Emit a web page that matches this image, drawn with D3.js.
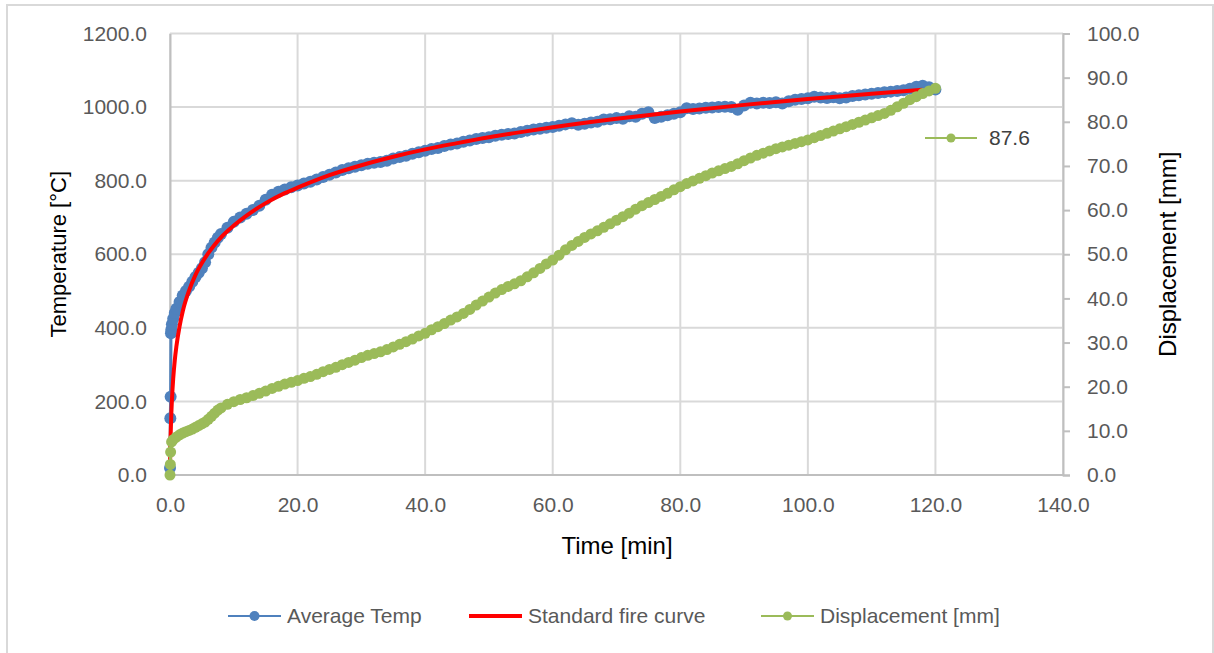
<!DOCTYPE html>
<html><head><meta charset="utf-8">
<script src="https://cdn.jsdelivr.net/npm/d3@7"></script>
<style>html,body{margin:0;padding:0;background:#fff;}svg{display:block;font-family:"Liberation Sans",Arial,sans-serif;}</style>
</head><body><svg id="c" width="1214" height="653"></svg>
<script>
// ---- data ----
const tempTime = [0,0.05,0.1,0.15,0.2,0.3,0.5,0.75,1,1.5,2,2.5,3,3.5,4,4.5,5,5.5,6,6.5,7,7.5,8,9,10,11,12,13,14,15,16,17,18,19,20,21,22,23,24,25,26,27,28,29,30,31,32,33,34,35,36,37,38,39,40,41,42,43,44,45,46,47,48,49,50,51,52,53,54,55,56,57,58,59,60,61,62,63,64,65,66,67,68,69,70,71,72,73,74,75,76,77,78,79,80,81,82,83,84,85,86,87,88,89,90,91,92,93,94,95,96,97,98,99,100,101,102,103,104,105,106,107,108,109,110,111,112,113,114,115,116,117,118,119,120];
const avgTemp = [19,154,213,385,395,410,425,440,452,470,488,500,512,525,538,550,562,578,600,618,632,645,655,672,688,700,710,720,732,748,762,770,776,782,787,792,797,803,810,816,822,829,834,838,842,846,849,851,854,860,864,868,873,877,881,886,889,894,898,901,906,909,913,916,918,922,925,927,928,932,936,939,941,944,946,949,953,956,952,955,958,960,966,967,970,968,975,974,982,986,970,974,978,982,986,997,995,996,998,999,1000,1001,1000,993,1004,1012,1010,1012,1011,1013,1010,1016,1020,1022,1024,1028,1026,1025,1027,1024,1026,1030,1032,1034,1036,1038,1040,1042,1044,1046,1050,1055,1058,1054,1048];
const fireTime = [0,0.05,0.1,0.2,0.3,0.5,0.75,1,1.5,2,3,4,5,6,7,8,10,12,15,18,20,25,30,35,40,45,50,55,60,70,80,90,100,110,118];
const fireCurve = [20,70,108,163,203,261,312,349,404,445,502,544,576,603,626,646,678,705,739,766,781,815,842,865,885,902,918,932,945,968,988,1006,1022,1036,1047];
const dispTime = [0,0.05,0.1,0.25,0.5,1,1.5,2,2.5,3,3.5,4,4.5,5,5.5,6,6.5,7,7.5,8,9,10,11,12,13,14,15,16,17,18,19,20,21,22,23,24,25,26,27,28,29,30,31,32,33,34,35,36,37,38,39,40,41,42,43,44,45,46,47,48,49,50,51,52,53,54,55,56,57,58,59,60,61,62,63,64,65,66,67,68,69,70,71,72,73,74,75,76,77,78,79,80,81,82,83,84,85,86,87,88,89,90,91,92,93,94,95,96,97,98,99,100,101,102,103,104,105,106,107,108,109,110,111,112,113,114,115,116,117,118,119,120];
const displacement = [0,2.4,5.2,7.5,8.0,8.6,9.1,9.5,9.8,10.1,10.4,10.8,11.2,11.6,12.0,12.6,13.3,14.0,14.7,15.2,16.0,16.6,17.1,17.5,18.0,18.5,19.0,19.6,20.1,20.6,21.0,21.4,21.9,22.3,22.8,23.4,23.9,24.4,25.0,25.5,26.0,26.6,27.1,27.5,27.9,28.4,29.0,29.6,30.2,30.8,31.5,32.1,32.9,33.6,34.3,35.1,35.8,36.6,37.5,38.5,39.4,40.3,41.2,42.0,42.7,43.3,44.0,44.9,45.8,46.8,47.8,48.7,49.8,51.0,52.0,52.9,53.8,54.6,55.3,56.1,56.9,57.7,58.5,59.3,60.2,61.0,61.7,62.4,63.1,63.8,64.6,65.3,66.0,66.6,67.2,67.8,68.4,68.9,69.4,69.9,70.5,71.2,71.8,72.4,72.9,73.4,73.9,74.3,74.7,75.1,75.5,75.9,76.4,76.9,77.4,77.9,78.4,78.9,79.4,79.9,80.4,80.9,81.4,81.9,82.6,83.4,84.2,85.0,85.7,86.4,87.0,87.6];
const xTicks = [0,20,40,60,80,100,120,140];
const yTicks = [0,200,400,600,800,1000,1200];
const y2Ticks = [0,10,20,30,40,50,60,70,80,90,100];
const seriesNames = ["Average Temp","Standard fire curve","Displacement [mm]"];
const lastLabel = "87.6";

// ---- drawing ----
const svg = d3.select("#c");
const L = 170, R = 1063, T = 33.5, B = 475;
const x = d3.scaleLinear().domain([0,140]).range([L,R]);
const y = d3.scaleLinear().domain([0,1200]).range([B,T]);
const y2 = d3.scaleLinear().domain([0,100]).range([B,T]);
const BLUE = "#4f81bd", RED = "#ff0000", GREEN = "#9bbb59", GRID = "#d9d9d9", TXT = "#595959";

svg.append("rect").attr("x",7).attr("y",5).attr("width",1206).attr("height",660)
  .attr("fill","none").attr("stroke","#d9d9d9").attr("stroke-width",2);

// gridlines
svg.append("g").selectAll("line").data(yTicks).join("line")
  .attr("x1",L).attr("x2",R).attr("y1",d=>y(d)).attr("y2",d=>y(d))
  .attr("stroke",GRID).attr("stroke-width",2);
svg.append("g").selectAll("line").data(xTicks).join("line")
  .attr("y1",T).attr("y2",B).attr("x1",d=>x(d)).attr("x2",d=>x(d))
  .attr("stroke",GRID).attr("stroke-width",2);

// axes
const axB = svg.append("g").attr("transform",`translate(0,${B})`)
  .call(d3.axisBottom(x).tickValues(xTicks).tickFormat(d3.format(".1f")).tickSize(0).tickPadding(22));
const axL = svg.append("g").attr("transform",`translate(${L},0)`)
  .call(d3.axisLeft(y).tickValues(yTicks).tickFormat(d3.format(".1f")).tickSize(0).tickPadding(23));
const axR = svg.append("g").attr("transform",`translate(${R},0)`)
  .call(d3.axisRight(y2).tickValues(y2Ticks).tickFormat(d3.format(".1f")).tickSize(7).tickPadding(17));
[axB,axL,axR].forEach(a=>{
  a.select(".domain").attr("stroke","#bfbfbf").attr("stroke-width",2);
  a.selectAll(".tick line").attr("stroke","#bfbfbf").attr("stroke-width",2);
  a.selectAll("text").attr("fill",TXT).style("font-size","21px").style("font-family","'Liberation Sans',Arial,sans-serif");
});
axB.selectAll("text").attr("dy","0.71em");
axB.select(".domain").attr("d",`M${L},0H${R}`);

// series
const lineT = d3.line().x((d,i)=>x(tempTime[i])).y(d=>y(d));
svg.append("path").datum(avgTemp).attr("d",lineT).attr("fill","none").attr("stroke",BLUE).attr("stroke-width",3);
svg.append("g").selectAll("circle").data(avgTemp).join("circle")
  .attr("cx",(d,i)=>x(tempTime[i])).attr("cy",d=>y(d)).attr("r",6).attr("fill",BLUE);

const lineF = d3.line().x((d,i)=>x(fireTime[i])).y(d=>y(d)).curve(d3.curveMonotoneX);
svg.append("path").datum(fireCurve).attr("d",lineF).attr("fill","none").attr("stroke",RED).attr("stroke-width",4);

const lineD = d3.line().x((d,i)=>x(dispTime[i])).y(d=>y2(d));
svg.append("path").datum(displacement).attr("d",lineD).attr("fill","none").attr("stroke",GREEN).attr("stroke-width",3);
svg.append("g").selectAll("circle").data(displacement).join("circle")
  .attr("cx",(d,i)=>x(dispTime[i])).attr("cy",d=>y2(d)).attr("r",5.5).attr("fill",GREEN);

// data label with key
const lbl = svg.append("g").attr("transform","translate(925,138)");
lbl.append("line").attr("x1",0).attr("x2",52).attr("stroke",GREEN).attr("stroke-width",2);
lbl.append("circle").attr("cx",26).attr("r",4.5).attr("fill",GREEN);
lbl.append("text").attr("x",64).attr("dy","0.35em").attr("fill","#404040").style("font-size","21px").text(lastLabel);

// axis titles
svg.append("text").attr("x",617).attr("y",554).attr("text-anchor","middle").attr("fill","#000").style("font-size","24px").text("Time [min]");
svg.append("text").attr("transform",`translate(66,${(T+B)/2}) rotate(-90)`).attr("text-anchor","middle").attr("fill","#000").style("font-size","22px").text("Temperature [°C]");
svg.append("text").attr("transform",`translate(1176,${(T+B)/2}) rotate(-90)`).attr("text-anchor","middle").attr("fill","#000").style("font-size","24px").text("Displacement [mm]");

// legend
const leg = svg.append("g").attr("transform","translate(0,616)");
const items = [
  {x:228, c:BLUE, w:2, r:5, name:seriesNames[0]},
  {x:469, c:RED, w:4, r:0, name:seriesNames[1]},
  {x:761, c:GREEN, w:2, r:4.5, name:seriesNames[2]}
];
items.forEach(it=>{
  leg.append("line").attr("x1",it.x).attr("x2",it.x+53).attr("stroke",it.c).attr("stroke-width",it.w);
  if(it.r) leg.append("circle").attr("cx",it.x+26.5).attr("r",it.r).attr("fill",it.c);
  leg.append("text").attr("x",it.x+59).attr("dy","0.35em").attr("fill",TXT).style("font-size","21px").text(it.name);
});
</script></body></html>
